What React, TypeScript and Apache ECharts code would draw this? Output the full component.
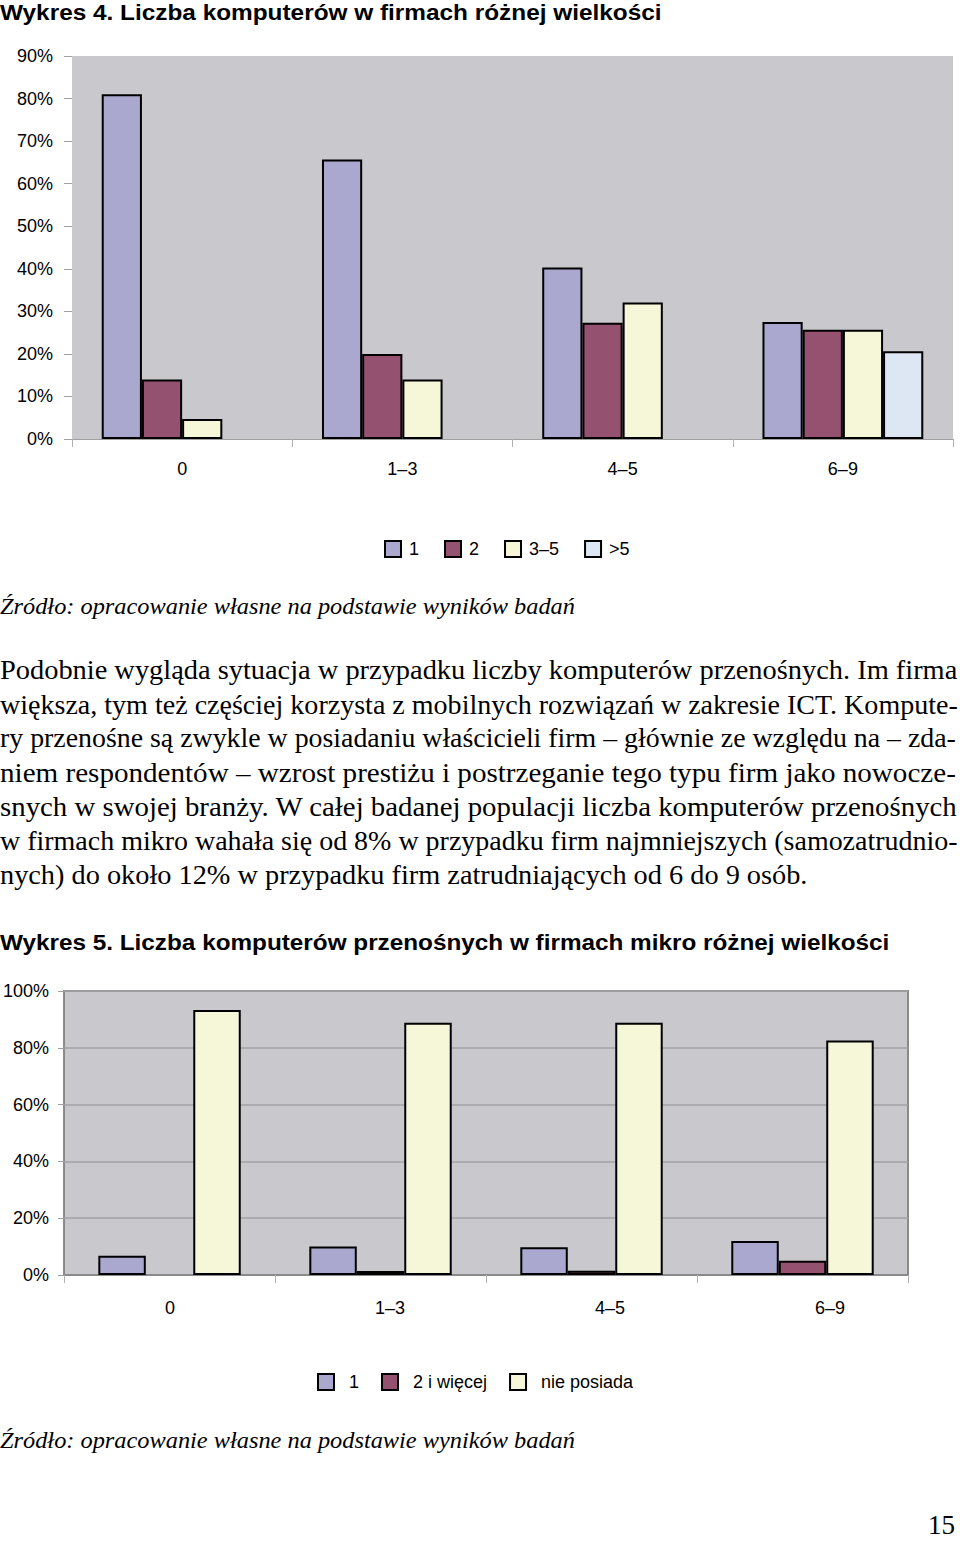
import React, { useEffect, useRef } from "react";
import * as echarts from "echarts";

const categories = ["0", "1–3", "4–5", "6–9"];

// Wykres 4
const legend4 = ["1", "2", "3–5", ">5"];
const w4s1 = [81, 65.7, 40.3, 27.5];
const w4s2 = [14, 20, 27.3, 25.7];
const w4s3 = [4.7, 14, 32.1, 25.7];
const w4s4 = [null, null, null, 20.6];

// Wykres 5
const legend5 = ["1", "2 i więcej", "nie posiada"];
const w5s1 = [6.8, 10, 9.8, 12];
const w5s2 = [null, 1.4, 1.5, 5];
const w5s3 = [93.3, 88.8, 88.8, 82.6];

const title4 = "Wykres 4. Liczba komputerów w firmach różnej wielkości";
const title5 = "Wykres 5. Liczba komputerów przenośnych w firmach mikro różnej wielkości";
const sourceText = "Źródło: opracowanie własne na podstawie wyników badań";
const bodyLines = [
  "Podobnie wygląda sytuacja w przypadku liczby komputerów przenośnych. Im firma",
  "większa, tym też częściej korzysta z mobilnych rozwiązań w zakresie ICT. Kompute-",
  "ry przenośne są zwykle w posiadaniu właścicieli firm – głównie ze względu na – zda-",
  "niem respondentów – wzrost prestiżu i postrzeganie tego typu firm jako nowocze-",
  "snych w swojej branży. W całej badanej populacji liczba komputerów przenośnych",
  "w firmach mikro wahała się od 8% w przypadku firm najmniejszych (samozatrudnio-",
  "nych) do około 12% w przypadku firm zatrudniających od 6 do 9 osób.",
];
const bodyWidths = [958, 958, 956, 956, 958, 958, 808];
const pageNumber = "15";

const colors = ["#AAA8CF", "#945170", "#F6F6D9", "#DCE7F3"];
const plotBg = "#C9C8CD";

function measure(text: string, font: string): number {
  const c = document.createElement("canvas").getContext("2d");
  if (!c) return 1;
  c.font = font;
  return c.measureText(text).width || 1;
}

function fitText(
  text: string,
  x: number,
  y: number,
  target: number,
  family: string,
  size: number,
  weight: string,
  style: string
) {
  const font = `${style} ${weight} ${size}px '${family}'`;
  const w = measure(text, font);
  return {
    type: "text",
    x,
    y,
    scaleX: target / w,
    style: {
      text,
      fontFamily: family,
      fontSize: size,
      fontWeight: weight,
      fontStyle: style,
      fill: "#000",
      align: "left",
      verticalAlign: "middle",
      textAlign: "left",
      textVerticalAlign: "middle",
    },
  };
}

export default function App() {
  const ref = useRef<HTMLDivElement>(null);

  useEffect(() => {
    if (!ref.current) return;
    const chart = echarts.init(ref.current, undefined, { renderer: "svg" });

    const barStyle = (i: number) => ({
      color: colors[i],
      borderColor: "#000",
      borderWidth: 2,
    });

    const graphics: any[] = [
      fitText(title4, 0, 12, 662, "Liberation Sans", 22, "bold", "normal"),
      fitText(sourceText, 0, 606, 575, "Liberation Serif", 24, "normal", "italic"),
      ...bodyLines.map((t, i) =>
        fitText(t, 0, 670 + i * 34.2, bodyWidths[i], "Liberation Serif", 27, "normal", "normal")
      ),
      fitText(title5, 0, 942, 890, "Liberation Sans", 22, "bold", "normal"),
      fitText(sourceText, 0, 1440, 575, "Liberation Serif", 24, "normal", "italic"),
      {
        type: "text",
        x: 955,
        y: 1525,
        style: {
          text: pageNumber,
          fontFamily: "Liberation Serif",
          fontSize: 27,
          fill: "#000",
          align: "right",
          verticalAlign: "middle",
          textAlign: "right",
          textVerticalAlign: "middle",
        },
      },
    ];

    const option: any = {
      animation: false,
      backgroundColor: "#fff",
      textStyle: { fontFamily: "Liberation Sans", color: "#000" },
      grid: [
        {
          left: 72,
          top: 56,
          width: 881,
          height: 383,
          show: true,
          backgroundColor: plotBg,
          borderWidth: 0,
        },
        {
          left: 64,
          top: 991,
          width: 844,
          height: 284,
          show: true,
          backgroundColor: plotBg,
          borderColor: "#8a8a8a",
          borderWidth: 2,
        },
        {
          left: 60,
          top: 991,
          width: 880,
          height: 284,
          show: false,
        },
      ],
      xAxis: [
        {
          type: "category",
          gridIndex: 0,
          data: categories,
          axisLine: { show: true, lineStyle: { color: "#a0a0a0", width: 1 } },
          axisTick: { show: true, length: 8, lineStyle: { color: "#b0b0b0" } },
          axisLabel: { fontSize: 18, color: "#000", margin: 21 },
        },
        {
          type: "category",
          gridIndex: 1,
          data: categories,
          axisLine: { show: true, lineStyle: { color: "#8a8a8a", width: 2 } },
          axisTick: { show: true, length: 8, lineStyle: { color: "#b0b0b0" } },
          axisLabel: { show: false },
        },
        {
          type: "category",
          gridIndex: 2,
          data: categories,
          axisLine: { show: false },
          axisTick: { show: false },
          axisLabel: { fontSize: 18, color: "#000", margin: 24 },
        },
      ],
      yAxis: [
        {
          type: "value",
          gridIndex: 0,
          min: 0,
          max: 90,
          interval: 10,
          axisLine: { show: false },
          axisTick: { show: true, length: 8, lineStyle: { color: "#a0a0a0" } },
          splitLine: { show: false },
          axisLabel: { formatter: "{value}%", fontSize: 18, color: "#000", margin: 19 },
        },
        {
          type: "value",
          gridIndex: 1,
          min: 0,
          max: 100,
          interval: 20,
          axisLine: { show: false },
          axisTick: { show: true, length: 6, lineStyle: { color: "#a0a0a0" } },
          splitLine: { show: true, lineStyle: { color: "#a2a2a6", width: 1.5 } },
          axisLabel: { formatter: "{value}%", fontSize: 18, color: "#000", margin: 15 },
        },
        {
          type: "value",
          gridIndex: 2,
          min: 0,
          max: 100,
          show: false,
        },
      ],
      legend: [
        {
          data: legend4,
          left: 379,
          top: 535,
          icon: "rect",
          itemWidth: 16,
          itemHeight: 16,
          itemGap: 25,
          textStyle: { fontSize: 18, color: "#000", padding: [0, 0, 0, 3] },
          selectedMode: false,
        },
        {
          data: legend5,
          left: 312,
          top: 1368,
          icon: "rect",
          itemWidth: 16,
          itemHeight: 16,
          itemGap: 22,
          textStyle: { fontSize: 18, color: "#000", padding: [0, 0, 0, 10] },
          selectedMode: false,
        },
      ],
      series: [
        { name: legend4[0], type: "bar", xAxisIndex: 0, yAxisIndex: 0, data: w4s1, itemStyle: barStyle(0), barGap: "0%", barCategoryGap: "27%" },
        { name: legend4[1], type: "bar", xAxisIndex: 0, yAxisIndex: 0, data: w4s2, itemStyle: barStyle(1), barGap: "0%", barCategoryGap: "27%" },
        { name: legend4[2], type: "bar", xAxisIndex: 0, yAxisIndex: 0, data: w4s3, itemStyle: barStyle(2), barGap: "0%", barCategoryGap: "27%" },
        { name: legend4[3], type: "bar", xAxisIndex: 0, yAxisIndex: 0, data: w4s4, itemStyle: barStyle(3), barGap: "0%", barCategoryGap: "27%" },
        { name: legend5[0], type: "bar", xAxisIndex: 1, yAxisIndex: 1, data: w5s1, itemStyle: barStyle(0), barGap: "0%", barCategoryGap: "32.5%" },
        { name: legend5[1], type: "bar", xAxisIndex: 1, yAxisIndex: 1, data: w5s2, itemStyle: barStyle(1), barGap: "0%", barCategoryGap: "32.5%" },
        { name: legend5[2], type: "bar", xAxisIndex: 1, yAxisIndex: 1, data: w5s3, itemStyle: barStyle(2), barGap: "0%", barCategoryGap: "32.5%" },
      ],
      graphic: graphics,
    };

    chart.setOption(option);
    return () => chart.dispose();
  }, []);

  return (
    <div
      ref={ref}
      style={{ position: "absolute", left: 0, top: 0, width: 960, height: 1541, background: "#fff" }}
    />
  );
}
